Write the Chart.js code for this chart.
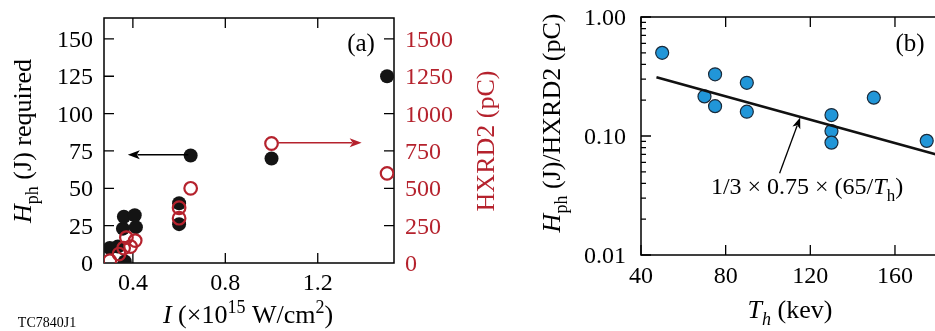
<!DOCTYPE html>
<html>
<head>
<meta charset="utf-8">
<script src="https://cdn.jsdelivr.net/npm/chart.js@4/dist/chart.umd.min.js"></script>
<style>
  html, body { margin: 0; padding: 0; background: #fff; overflow: hidden; width: 935px; height: 331px; }
  #wrapA { position: absolute; left: 0; top: 0; width: 505px; height: 331px; }
  #wrapB { position: absolute; left: 505px; top: 0; width: 440px; height: 331px; }
</style>
</head>
<body>
<div id="wrapA"><canvas id="chartA" width="505" height="331"></canvas></div>
<div id="wrapB"><canvas id="chartB" width="440" height="331"></canvas></div>
<script>
// ---------- Panel (a) data ----------
const aXTicks = [0.4, 0.8, 1.2];
const aLeftTicks = [0, 25, 50, 75, 100, 125, 150];
const aRightTicks = [0, 250, 500, 750, 1000, 1250, 1500];
// Hph (J) required, black filled circles (left axis)
const hphIntensity = [0.30, 0.335, 0.365, 0.357, 0.361, 0.408, 0.413, 0.60, 0.60, 0.65, 1.0, 1.5];
const hphRequired  = [10, 11, 1, 23, 31, 32, 24, 40, 26, 72, 70, 125];
// HXRD2 (pC), red open circles (right axis)
const hxrdIntensity = [0.30, 0.34, 0.36, 0.372, 0.39, 0.41, 0.60, 0.60, 0.65, 1.0, 1.5];
const hxrdCharge    = [15, 60, 100, 170, 110, 150, 370, 300, 500, 800, 600];
// annotation arrows (data coordinates)
const blackArrowX = [0.64, 0.378]; const blackArrowY = [72.5, 72.5];   // left axis
const redArrowX = [1.03, 1.39];    const redArrowY = [805, 805];       // right axis

// ---------- Panel (b) data ----------
const bXTicks = [40, 80, 120, 160];
const bYTicks = [0.01, 0.1, 1];
const bYMinor = [0.02,0.03,0.04,0.05,0.06,0.07,0.08,0.09,0.2,0.3,0.4,0.5,0.6,0.7,0.8,0.9];
const thKev = [50, 75, 70, 75, 90, 90, 130, 130, 130, 150, 175];
const hphPerHxrd = [0.50, 0.33, 0.215, 0.178, 0.28, 0.16, 0.15, 0.11, 0.088, 0.21, 0.091];
const fitTh = [47.3, 180];
const fitVal = [0.311, 0.0695];
const fitArrowX = [105.5, 115.2]; const fitArrowY = [0.0486, 0.143];

const RED = '#b5222d';
const BLUE = '#2196d8';
const FAM = '"Liberation Serif"';

// ---------- text helpers ----------
function segFont(s, size) {
  const sz = (s.sub || s.sup) ? Math.round(size * 0.7) : size;
  return (s.italic ? 'italic ' : '') + sz + 'px ' + FAM;
}
function drawRich(ctx, segs, x, y, size, color, rotate) {
  ctx.save();
  ctx.translate(x, y);
  if (rotate) ctx.rotate(-Math.PI / 2);
  let total = 0;
  segs.forEach(s => { ctx.font = segFont(s, size); total += ctx.measureText(s.t).width; });
  let cx = -total / 2;
  ctx.textBaseline = 'alphabetic';
  ctx.textAlign = 'left';
  segs.forEach(s => {
    ctx.font = segFont(s, size);
    ctx.fillStyle = s.color || color;
    let dy = 0;
    if (s.sub) dy = size * 0.28;
    if (s.sup) dy = -size * 0.38;
    ctx.fillText(s.t, cx, dy);
    cx += ctx.measureText(s.t).width;
  });
  ctx.restore();
}
function label(ctx, text, x, y, align, color) {
  ctx.save();
  ctx.font = '24px ' + FAM;
  ctx.fillStyle = color;
  ctx.textAlign = align;
  ctx.textBaseline = 'alphabetic';
  ctx.fillText(text, x, y);
  ctx.restore();
}
function arrow(ctx, x1, y1, x2, y2, color, width, head) {
  const ang = Math.atan2(y2 - y1, x2 - x1);
  ctx.save();
  ctx.strokeStyle = color; ctx.fillStyle = color; ctx.lineWidth = width;
  ctx.beginPath();
  ctx.moveTo(x1, y1);
  ctx.lineTo(x2 - Math.cos(ang) * head * 0.8, y2 - Math.sin(ang) * head * 0.8);
  ctx.stroke();
  ctx.beginPath();
  ctx.moveTo(x2, y2);
  ctx.lineTo(x2 - head * Math.cos(ang) + head * 0.38 * Math.sin(ang), y2 - head * Math.sin(ang) - head * 0.38 * Math.cos(ang));
  ctx.lineTo(x2 - head * 0.75 * Math.cos(ang), y2 - head * 0.75 * Math.sin(ang));
  ctx.lineTo(x2 - head * Math.cos(ang) - head * 0.38 * Math.sin(ang), y2 - head * Math.sin(ang) + head * 0.38 * Math.cos(ang));
  ctx.closePath();
  ctx.fill();
  ctx.restore();
}

Chart.defaults.animation = false;

// ---------- Panel (a) ----------
const frameA = {
  id: 'frameA',
  beforeDatasetsDraw(chart) {
    const { ctx, chartArea: a, scales } = chart;
    ctx.save();
    ctx.strokeStyle = '#000'; ctx.lineWidth = 1.5;
    ctx.strokeRect(a.left, a.top, a.right - a.left, a.bottom - a.top);
    ctx.lineWidth = 1.3;
    ctx.beginPath();
    aXTicks.forEach(v => {
      const px = scales.x.getPixelForValue(v);
      ctx.moveTo(px, a.bottom); ctx.lineTo(px, a.bottom - 10);
      ctx.moveTo(px, a.top); ctx.lineTo(px, a.top + 10);
    });
    aLeftTicks.forEach(v => {
      if (v === 0) return;
      const py = scales.y.getPixelForValue(v);
      ctx.moveTo(a.left, py); ctx.lineTo(a.left + 10, py);
    });
    aRightTicks.forEach(v => {
      if (v === 0) return;
      const py = scales.y2.getPixelForValue(v);
      ctx.moveTo(a.right, py); ctx.lineTo(a.right - 10, py);
    });
    ctx.stroke();
    ctx.restore();
    // tick labels
    aXTicks.forEach(v => label(ctx, v.toFixed(1), scales.x.getPixelForValue(v), a.bottom + 27, 'center', '#000'));
    aLeftTicks.forEach(v => label(ctx, String(v), a.left - 11, scales.y.getPixelForValue(v) + 8, 'right', '#000'));
    aRightTicks.forEach(v => label(ctx, String(v), a.right + 11, scales.y2.getPixelForValue(v) + 8, 'left', RED));
  },
  afterDatasetsDraw(chart) {
    const { ctx, scales } = chart;
    arrow(ctx, scales.x.getPixelForValue(blackArrowX[0]), scales.y.getPixelForValue(blackArrowY[0]),
               scales.x.getPixelForValue(blackArrowX[1]), scales.y.getPixelForValue(blackArrowY[1]), '#000', 1.5, 12);
    arrow(ctx, scales.x.getPixelForValue(redArrowX[0]), scales.y2.getPixelForValue(redArrowY[0]),
               scales.x.getPixelForValue(redArrowX[1]), scales.y2.getPixelForValue(redArrowY[1]), RED, 1.5, 12);
  },
  afterDraw(chart) {
    const { ctx } = chart;
    drawRich(ctx, [{t:'(a)'}], 361, 51, 25, '#000', false);
    drawRich(ctx, [{t:'H', italic:true}, {t:'ph', sub:true}, {t:' (J) required'}], 31, 141, 26, '#000', true);
    drawRich(ctx, [{t:'HXRD2 (pC)'}], 494, 141, 26, RED, true);
    drawRich(ctx, [{t:'I', italic:true}, {t:' (×10'}, {t:'15', sup:true}, {t:' W/cm'}, {t:'2', sup:true}, {t:')'}], 248, 323, 26, '#000', false);
    drawRich(ctx, [{t:'TC7840J1'}], 47, 327, 14, '#000', false);
  }
};

new Chart(document.getElementById('chartA'), {
  type: 'scatter',
  data: {
    datasets: [
      {
        label: 'HXRD2 (pC)',
        data: hxrdIntensity.map((x, i) => ({ x, y: hxrdCharge[i] })),
        yAxisID: 'y2',
        pointRadius: 6.3,
        pointBorderWidth: 2.2,
        pointBackgroundColor: 'rgba(255,255,255,0)',
        pointBorderColor: RED,
        showLine: false
      },
      {
        label: 'Hph (J) required',
        data: hphIntensity.map((x, i) => ({ x, y: hphRequired[i] })),
        yAxisID: 'y',
        pointRadius: 7,
        pointBorderWidth: 0,
        pointBackgroundColor: '#141414',
        pointBorderColor: '#141414',
        showLine: false
      }
    ]
  },
  options: {
    responsive: false,
    animation: false,
    layout: { padding: { top: 18, left: 0, right: 0, bottom: 0 } },
    plugins: { legend: { display: false }, tooltip: { enabled: false } },
    scales: {
      x: {
        type: 'linear', min: 0.275, max: 1.53,
        afterBuildTicks: s => { s.ticks = aXTicks.map(v => ({ value: v })); },
        afterFit: s => { s.height = 68; },
        grid: { display: false, drawTicks: false },
        border: { display: false },
        ticks: { display: false }
      },
      y: {
        type: 'linear', position: 'left', min: 0, max: 164,
        afterBuildTicks: s => { s.ticks = aLeftTicks.map(v => ({ value: v })); },
        afterFit: s => { s.width = 104; },
        grid: { display: false, drawTicks: false },
        border: { display: false },
        ticks: { display: false }
      },
      y2: {
        type: 'linear', position: 'right', min: 0, max: 1640,
        afterBuildTicks: s => { s.ticks = aRightTicks.map(v => ({ value: v })); },
        afterFit: s => { s.width = 111; },
        grid: { display: false, drawTicks: false },
        border: { display: false },
        ticks: { display: false }
      }
    }
  },
  plugins: [frameA]
});

// ---------- Panel (b) ----------
const frameB = {
  id: 'frameB',
  beforeDatasetsDraw(chart) {
    const { ctx, chartArea: a, scales } = chart;
    ctx.save();
    ctx.strokeStyle = '#000'; ctx.lineWidth = 1.5;
    ctx.strokeRect(a.left, a.top, a.right - a.left, a.bottom - a.top);
    ctx.lineWidth = 1.3;
    ctx.beginPath();
    bXTicks.forEach(v => {
      const px = scales.x.getPixelForValue(v);
      ctx.moveTo(px, a.bottom); ctx.lineTo(px, a.bottom - 10);
      ctx.moveTo(px, a.top); ctx.lineTo(px, a.top + 10);
    });
    bYTicks.forEach(v => {
      const py = scales.y.getPixelForValue(v);
      ctx.moveTo(a.left, py); ctx.lineTo(a.left + 10, py);
    });
    bYMinor.forEach(v => {
      const py = scales.y.getPixelForValue(v);
      ctx.moveTo(a.left, py); ctx.lineTo(a.left + 5, py);
    });
    ctx.stroke();
    ctx.restore();
    bXTicks.forEach(v => label(ctx, String(v), scales.x.getPixelForValue(v), a.bottom + 28, 'center', '#000'));
    bYTicks.forEach(v => label(ctx, v.toFixed(2), a.left - 15, scales.y.getPixelForValue(v) + 8, 'right', '#000'));
  },
  afterDatasetsDraw(chart) {
    const { ctx, scales } = chart;
    arrow(ctx, scales.x.getPixelForValue(fitArrowX[0]), scales.y.getPixelForValue(fitArrowY[0]),
               scales.x.getPixelForValue(fitArrowX[1]), scales.y.getPixelForValue(fitArrowY[1]), '#000', 1.3, 11);
  },
  afterDraw(chart) {
    const { ctx } = chart;
    drawRich(ctx, [{t:'(b)'}], 405, 51, 25, '#000', false);
    drawRich(ctx, [{t:'H', italic:true}, {t:'ph', sub:true}, {t:' (J)/HXRD2 (pC)'}], 55, 123, 26, '#000', true);
    drawRich(ctx, [{t:'T', italic:true}, {t:'h', italic:true, sub:true}, {t:' (kev)'}], 285, 318, 26, '#000', false);
    drawRich(ctx, [{t:'1/3 × 0.75 × (65/'}, {t:'T', italic:true}, {t:'h', sub:true}, {t:')'}], 302, 194, 24, '#000', false);
  }
};

new Chart(document.getElementById('chartB'), {
  type: 'scatter',
  data: {
    datasets: [
      {
        label: 'fit',
        data: fitTh.map((x, i) => ({ x, y: fitVal[i] })),
        showLine: true,
        borderColor: '#111',
        borderWidth: 2.6,
        pointRadius: 0,
        fill: false
      },
      {
        label: 'Hph/HXRD2',
        data: thKev.map((x, i) => ({ x, y: hphPerHxrd[i] })),
        pointRadius: 6.5,
        pointBorderWidth: 1.2,
        pointBackgroundColor: BLUE,
        pointBorderColor: '#1a2a3a',
        showLine: false
      }
    ]
  },
  options: {
    responsive: false,
    animation: false,
    layout: { padding: { top: 17, left: 0, right: 5, bottom: 0 } },
    plugins: { legend: { display: false }, tooltip: { enabled: false } },
    scales: {
      x: {
        type: 'linear', min: 40, max: 180,
        afterBuildTicks: s => { s.ticks = bXTicks.map(v => ({ value: v })); },
        afterFit: s => { s.height = 76; },
        grid: { display: false, drawTicks: false },
        border: { display: false },
        ticks: { display: false }
      },
      y: {
        type: 'logarithmic', min: 0.01, max: 1,
        afterBuildTicks: s => { s.ticks = bYTicks.map(v => ({ value: v })); },
        afterFit: s => { s.width = 136; },
        grid: { display: false, drawTicks: false },
        border: { display: false },
        ticks: { display: false }
      }
    }
  },
  plugins: [frameB]
});
</script>
</body>
</html>
